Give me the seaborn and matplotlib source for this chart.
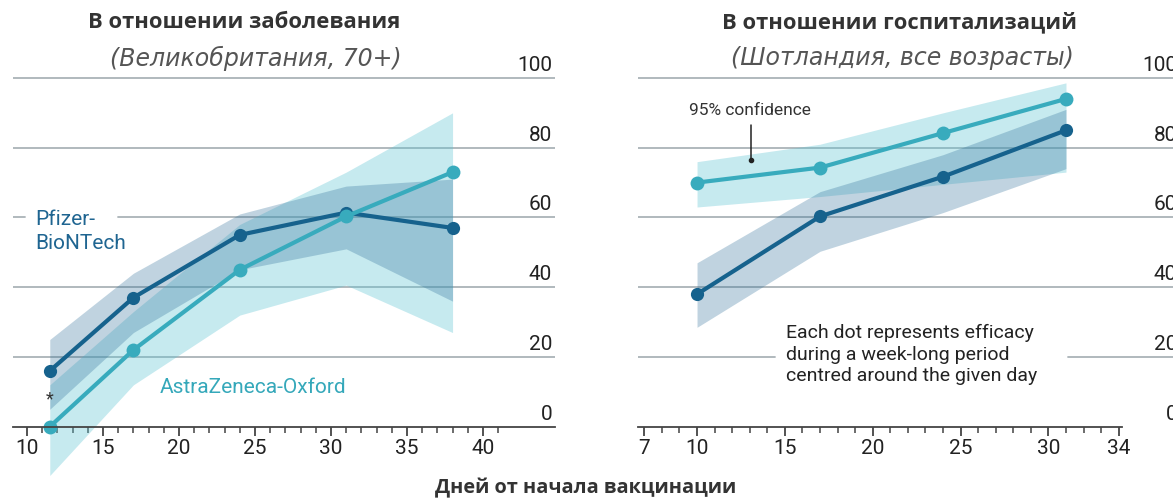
import matplotlib
matplotlib.use("Agg")
import matplotlib.pyplot as plt
import seaborn as sns
import numpy as np
import pandas as pd

# ---------------- data ----------------
uk_days = [11.5, 17, 24, 31, 38]
uk_pfizer = [16, 37, 55, 61.4, 57]
uk_pfizer_lo = [5, 27, 45, 51, 36]
uk_pfizer_hi = [25, 44, 61, 69, 71]
uk_az = [0, 22, 45, 60.3, 73]
uk_az_lo = [-14, 12, 32, 40.6, 27]
uk_az_hi = [12, 33, 58, 73, 90]

sc_days = [10, 17, 24, 31]
sc_pfizer = [38, 60.3, 71.7, 85]
sc_pfizer_lo = [28.5, 50.3, 61.4, 74]
sc_pfizer_hi = [47, 67.4, 78, 91]
sc_az = [70, 74.3, 84.2, 94]
sc_az_lo = [63, 66, 69.5, 73]
sc_az_hi = [76, 81, 90, 98.6]

y_ticks = [0, 20, 40, 60, 80, 100]
uk_x_major = [10, 15, 20, 25, 30, 35, 40]
uk_x_minor = list(range(10, 42))
sc_x_major = [7, 10, 15, 20, 25, 30, 34]
sc_x_minor = list(range(7, 35))

title_left = "В отношении заболевания"
sub_left = "(Великобритания, 70+)"
title_right = "В отношении госпитализаций"
sub_right = "(Шотландия, все возрасты)"
xlabel = "Дней от начала вакцинации"
note = "Each dot represents efficacy\nduring a week-long period\ncentred around the given day"

# ---------------- style ----------------
sns.set_theme(style="white")
SANS = ["Open Sans", "Noto Sans", "DejaVu Sans"]
ITAL = ["DejaVu Sans"]
NARROW = ["Liberation Sans Narrow", "Roboto", "DejaVu Sans"]
plt.rcParams["font.family"] = NARROW

PF = "#16628d"
AZ = "#38abbd"
PF_FILL = "#2f6f99"
AZ_FILL = "#5cc3d3"
GRID = "#aab3b8"
AXIS = "#444444"
TXT = "#222222"

W, H = 1173, 502
fig = plt.figure(figsize=(W / 100, H / 100), dpi=100)

bottom_px, top_px = 480, 72
ax1 = fig.add_axes([13 / W, (H - bottom_px) / H, 542 / W, (bottom_px - top_px) / H])
ax2 = fig.add_axes([638 / W, (H - bottom_px) / H, 542 / W, (bottom_px - top_px) / H])


def style_axis(ax, major, minor, spine_bounds, gaps):
    ax.set_ylim(-15, 102)
    for s in ["top", "left", "right"]:
        ax.spines[s].set_visible(False)
    ax.spines["bottom"].set_position(("data", 0))
    ax.spines["bottom"].set_color(AXIS)
    ax.spines["bottom"].set_linewidth(1.3)
    ax.spines["bottom"].set_zorder(6)
    if spine_bounds is not None:
        ax.spines["bottom"].set_bounds(*spine_bounds)
    ax.set_xticks(major)
    ax.set_xticklabels([str(v) for v in major])
    ax.set_xticks(minor, minor=True)
    ax.tick_params(axis="x", which="both", bottom=True, top=False)
    ax.tick_params(axis="x", which="major", length=6.5, width=1.3, color=AXIS,
                   direction="out", pad=2, labelsize=15, labelcolor=TXT)
    ax.tick_params(axis="x", which="minor", length=4, width=1.1, color=AXIS,
                   direction="out")
    ax.set_yticks([])
    ax.set_facecolor("none")
    for v in y_ticks:
        if v > 0:
            if v in gaps:
                for (a, b) in gaps[v]:
                    ax.axhline(v, xmin=a, xmax=b, color=GRID, lw=1.3, zorder=0.5)
            else:
                ax.axhline(v, color=GRID, lw=1.3, zorder=0.5)
        ax.annotate(str(v), xy=(1, v), xycoords=ax.get_yaxis_transform(),
                    xytext=(-2, 3), textcoords="offset points",
                    ha="right", va="bottom", fontsize=15, color=TXT,
                    annotation_clip=False)


def draw(ax, days, pf, pf_lo, pf_hi, az, az_lo, az_hi):
    ax.fill_between(days, az_lo, az_hi, color=AZ_FILL, alpha=0.35, lw=0, zorder=1)
    ax.fill_between(days, pf_lo, pf_hi, color=PF_FILL, alpha=0.30, lw=0, zorder=2)
    sns.lineplot(x=days, y=pf, ax=ax, color=PF, lw=3, marker="o", markersize=9.5,
                 markeredgewidth=0, zorder=5)
    sns.lineplot(x=days, y=az, ax=ax, color=AZ, lw=3, marker="o", markersize=10,
                 markeredgewidth=0, zorder=5)
    ax.set_xlabel("")
    ax.set_ylabel("")


draw(ax1, uk_days, uk_pfizer, uk_pfizer_lo, uk_pfizer_hi, uk_az, uk_az_lo, uk_az_hi)
draw(ax2, sc_days, sc_pfizer, sc_pfizer_lo, sc_pfizer_hi, sc_az, sc_az_lo, sc_az_hi)

style_axis(ax1, uk_x_major, uk_x_minor, None,
           {60: [(0, (25 - 13) / 542), ((118 - 13) / 542, 1)]})
style_axis(ax2, sc_x_major, sc_x_minor, (6.64, 34.2),
           {20: [(0, (775 - 638) / 542), ((1068 - 638) / 542, 1)]})

ax1.set_xlim(9.08, 44.74)
ax2.set_xlim(6.64, 37.49)
ax1.set_ylim(-15, 102)
ax2.set_ylim(-15, 102)

# annotations left
ax1.text(10.53, 56.3, "Pfizer-\nBioNTech", ha="left", va="center", fontsize=15,
         color="#1f6591", linespacing=1.3)
ax1.text(18.75, 11.5, "AstraZeneca-Oxford", ha="left", va="center", fontsize=15,
         color="#35a8ba")
ax1.text(11.5, 8, "*", ha="center", va="center", fontsize=13, color="#333333")

# annotations right
ax2.text(13.0, 91.1, "95% confidence", ha="center", va="center", fontsize=12.5,
         color="#333333")
ax2.plot([13.1, 13.1], [86.5, 76.5], color="#222222", lw=1.1, zorder=7)
ax2.plot([13.1], [76.5], marker="o", markersize=3, color="#222222", zorder=7)
ax2.text(15.07, 20.9, note, ha="left", va="center", fontsize=14, color=TXT,
         linespacing=1.25)

# titles
fig.text(244 / W, 1 - 23 / H, title_left, ha="center", va="center", fontsize=15.8,
         fontweight="bold", color="#333333", family=SANS)
fig.text(256 / W, 1 - 58 / H, sub_left, ha="center", va="center", fontsize=17,
         fontstyle="italic", color="#555555", family=ITAL)
fig.text(900 / W, 1 - 23 / H, title_right, ha="center", va="center", fontsize=15.8,
         fontweight="bold", color="#333333", family=SANS)
fig.text(902 / W, 1 - 58 / H, sub_right, ha="center", va="center", fontsize=17,
         fontstyle="italic", color="#555555", family=ITAL)
fig.text(586 / W, 1 - 488 / H, xlabel, ha="center", va="center", fontsize=14.3,
         fontweight="bold", color="#333333", family=SANS)

fig.savefig("out.png", dpi=100)
